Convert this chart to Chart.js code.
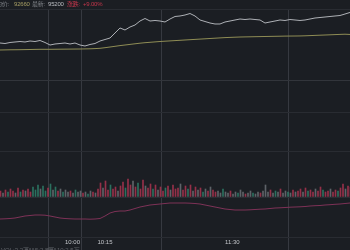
<!DOCTYPE html>
<html>
<head>
<meta charset="utf-8">
<script src="https://cdn.jsdelivr.net/npm/chart.js@4.4.1/dist/chart.umd.min.js"></script>
<style>
  html, body { margin: 0; padding: 0; background: #1b1e23; overflow: hidden; }
  #wrap { position: relative; width: 350px; height: 250px; }
  #chart { position: absolute; left: 0; top: 0; }
  .info { position: absolute; top: 1px; font: 6px "Liberation Sans", "Noto Sans CJK SC", sans-serif; line-height: 7px; white-space: nowrap; letter-spacing: -0.2px; }
  .lbl { color: #7d8086; }
  .avg { color: #a59d63; }
  .last { color: #b9bbc0; }
  .up { color: #c4364b; }
  .foot { position: absolute; top: 247px; font: 6px "Liberation Sans", "Noto Sans CJK SC", sans-serif; line-height: 7px; color: #5f6268; white-space: nowrap; }
</style>
</head>
<body>
<div id="wrap">
  <canvas id="chart" width="350" height="250"></canvas>
  <span class="info lbl" style="left:-4px">均价:</span>
  <span class="info avg" style="left:14px">92660</span>
  <span class="info lbl" style="left:32px">最新:</span>
  <span class="info last" style="left:48px">95200</span>
  <span class="info up" style="left:67px">涨跌:</span>
  <span class="info up" style="left:83px">+9.00%</span>
  <span class="foot" style="left:1px">VOL:3.2万</span>
  <span class="foot" style="left:26px">MA5:2.8万</span>
  <span class="foot" style="left:48px">MA10:2.5万</span>
</div>
<script>
// Données (valeurs approximatives)
const timeTicks = ['10:00', '10:15', '11:30'];
const timeTickIndex = [26, 39, 90];

// Prix (une valeur toutes les 5 px)
const price = [91673, 91615, 91731, 91789, 91846, 91789, 91904, 91846, 91962, 91731,
  91442, 91558, 91615, 91673, 91558, 91673, 91442, 91327, 91500, 91615,
  91904, 92077, 92250, 92828, 93406, 93175, 93521, 93752, 94214, 94503,
  94214, 94272, 94214, 94099, 94445, 94734, 94792, 94907, 95080, 94792,
  94330, 94156, 93983, 93868, 93868, 94099, 94214, 94330, 94445, 94387,
  94445, 94387, 94330, 93983, 94099, 94214, 94330, 94272, 94387, 94330,
  94272, 94330, 94445, 94560, 94618, 94676, 94734, 94792, 94849, 95022, 95200];

// Prix moyen
const avgPrice = [90865, 90876, 90888, 90893, 90899, 90911, 90922, 90934, 90945, 90945,
  90945, 90951, 90957, 90963, 90968, 90974, 90980, 90992, 91003, 91026,
  91061, 91130, 91211, 91292, 91373, 91442, 91511, 91581, 91650, 91708,
  91754, 91800, 91846, 91881, 91916, 91950, 91985, 92020, 92054, 92089,
  92124, 92158, 92193, 92228, 92262, 92297, 92320, 92343, 92366, 92378,
  92389, 92401, 92412, 92424, 92435, 92447, 92458, 92470, 92476, 92481,
  92487, 92504, 92527, 92551, 92574, 92597, 92620, 92643, 92666, 92689, 92660];

// Ligne du bas (rose)
const ratioLine = [1.80, 1.82, 1.85, 1.90, 2.00, 2.10, 2.15, 2.20, 2.20, 2.18,
  2.10, 2.00, 1.90, 1.85, 1.82, 1.80, 1.80, 1.80, 1.78, 1.80,
  1.85, 2.10, 2.40, 2.55, 2.60, 2.60, 2.70, 2.85, 3.00, 3.10,
  3.20, 3.25, 3.30, 3.35, 3.40, 3.40, 3.40, 3.40, 3.38, 3.35,
  3.30, 3.20, 3.10, 3.00, 2.90, 2.80, 2.75, 2.70, 2.70, 2.70,
  2.72, 2.75, 2.78, 2.80, 2.85, 2.90, 2.92, 2.95, 2.98, 3.00,
  3.02, 3.05, 3.10, 3.13, 3.15, 3.20, 3.23, 3.27, 3.30, 3.35, 3.40];

// Volume (une barre toutes les 2.5 px)
const volume = [600, 400, 700, 500, 800, 600, 400, 900, 500, 700, 600, 800, 500,
  1000, 700, 1200, 800, 1100, 600, 900, 1300,
  700, 1000, 600, 800, 500, 700,
  500, 600, 400, 700, 500, 600, 400, 500, 300, 600, 500, 400, 800,
  1400, 900, 1600, 700, 1200, 800, 1000, 600,
  1100, 1500, 900, 1800, 1200, 1600, 1000, 1400, 800, 1700, 1100, 900, 1300,
  800, 1200, 700, 1000, 600, 900, 1100, 700, 1200, 800,
  900, 1300, 700, 1100, 800, 1200, 600, 1000, 700, 900, 500, 800, 600, 1000, 700, 500,
  600, 400, 800, 500, 400, 600, 300, 500, 400, 700, 500, 300, 400, 600, 400, 300, 500, 400, 600,
  1200,
  500, 700, 400, 600, 500, 800, 400, 600, 500, 400, 700, 500,
  600, 800, 500, 900, 600, 700, 500, 800, 600, 1000, 700, 500, 600, 800, 500, 700, 600, 900,
  1300, 800, 1100, 1000];

// Sens de chaque barre: r = hausse, g = baisse, n = neutre
const volDir = ('rnrgrrnrgrnrr' + 'gggnggrg' + 'ngrngn' + 'nrngnnrngnrnr' + 'rnrrgrrn' +
  'rrgrrnrgrrnrr' + 'grnrrgrnrr' + 'rnrrgrnrnrgnrnrr' + 'nngnnrnngnnrnngnnrn' + 'n' +
  'nrngnrnngnrn' + 'rrnrgrrnrrgrrnrrgr' + 'rnrr').split('');

const prevClose = 87340;
const priceGrid = [95600, prevClose, 83700];
const volGrid = [4600, 0, -4000];

const dirColors = { r: 'rgba(190, 55, 85, 0.75)', g: 'rgba(50, 140, 115, 0.75)', n: 'rgba(140, 143, 150, 0.6)' };

// Étiquettes de l'axe du temps
const volLabels = volume.map((v, i) => {
    const k = timeTickIndex.indexOf(i);
    return k >= 0 ? timeTicks[k] : '';
});
const priceLabels = price.map((v, i) => i);

const ctx = document.getElementById('chart').getContext('2d');

const chart = new Chart(ctx, {
    data: {
        labels: volLabels,
        datasets: [{
            type: 'line',
            label: '价格',
            data: price,
            xAxisID: 'xp',
            yAxisID: 'y',
            borderColor: '#aeb1b6',
            borderWidth: 1,
            pointRadius: 0,
            order: 1
        }, {
            type: 'line',
            label: '均价',
            data: avgPrice,
            xAxisID: 'xp',
            yAxisID: 'y',
            borderColor: '#8f8d55',
            borderWidth: 1,
            pointRadius: 0,
            order: 2
        }, {
            type: 'line',
            label: '量比',
            data: ratioLine,
            xAxisID: 'xp',
            yAxisID: 'yl',
            borderColor: '#7e3257',
            borderWidth: 1,
            pointRadius: 0,
            order: 3
        }, {
            type: 'bar',
            label: '成交量',
            data: volume,
            xAxisID: 'x',
            yAxisID: 'yv',
            backgroundColor: volDir.map(d => dirColors[d]),
            barThickness: 1,
            order: 4
        }]
    },
    options: {
        responsive: false,
        animation: false,
        devicePixelRatio: 1,
        layout: { padding: { top: 9, left: 0, right: 0, bottom: 0 } },
        plugins: { legend: { display: false }, tooltip: { enabled: false } },
        scales: {
            x: {
                type: 'category',
                offset: false,
                border: { display: false },
                grid: { color: '#363940', tickLength: 13, drawTicks: true },
                afterBuildTicks: axis => { axis.ticks = axis.ticks.filter(t => volLabels[t.value] !== ''); },
                afterFit: axis => { axis.height = 13; },
                ticks: {
                    autoSkip: false,
                    maxRotation: 0,
                    align: 'start',
                    padding: -11,
                    color: '#c3c5ca',
                    font: { family: 'Liberation Sans', size: 6 }
                }
            },
            xp: {
                type: 'category',
                labels: priceLabels,
                offset: false,
                display: false
            },
            y: {
                min: 69266,
                max: 95600,
                border: { display: false },
                grid: {
                    drawTicks: false,
                    color: c => c.tick && c.tick.value === prevClose ? '#32353b' : '#292c32'
                },
                ticks: { display: false },
                afterBuildTicks: axis => { axis.ticks = priceGrid.map(v => ({ value: v })); },
                afterFit: axis => { axis.width = 0; }
            },
            yv: {
                min: -4000,
                max: 18800,
                border: { display: false },
                grid: { drawTicks: false, color: '#292c32' },
                ticks: { display: false },
                afterBuildTicks: axis => { axis.ticks = volGrid.map(v => ({ value: v })); },
                afterFit: axis => { axis.width = 0; }
            },
            yl: {
                min: 0,
                max: 22.8,
                display: false
            }
        }
    }
});
</script>
</body>
</html>
